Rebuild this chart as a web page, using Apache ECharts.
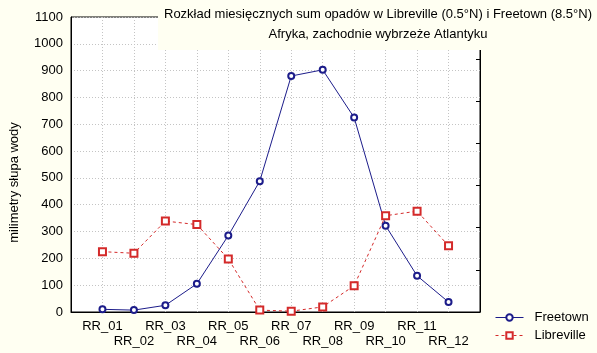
<!DOCTYPE html>
<html>
<head>
<meta charset="utf-8">
<script src="https://cdn.jsdelivr.net/npm/echarts@6/dist/echarts.min.js"></script>
<style>
  html, body { margin: 0; padding: 0; background: #fffff2; }
  #chart { width: 597px; height: 353px; }
</style>
</head>
<body>
<div id="chart"></div>
<script>
// months, padded with empty slots so the axis runs one step past each end
const months = ['RR_01', 'RR_02', 'RR_03', 'RR_04', 'RR_05', 'RR_06',
  'RR_07', 'RR_08', 'RR_09', 'RR_10', 'RR_11', 'RR_12'];
const freetown = [10, 7, 25, 105, 285, 488, 880, 903, 725, 322, 135, 37];
const libreville = [225, 219, 339, 326, 198, 7, 3, 19, 98, 359, 376, 247];
const yTicks = { min: 0, max: 1100, step: 100 };

const cats = [''].concat(months, ['']);
const pad = arr => [null].concat(arr, [null]);

const font = 'Liberation Sans, Arial, sans-serif';
const chart = echarts.init(document.getElementById('chart'));

chart.setOption({
  backgroundColor: '#fffff2',
  animation: false,
  textStyle: { fontFamily: font },
  title: {
    text: 'Rozkład miesięcznych sum opadów w Libreville (0.5°N) i Freetown (8.5°N)\nAfryka, zachodnie wybrzeże Atlantyku',
    left: 372,
    top: 0,
    textAlign: 'center',
    padding: [4, 6, 6, 6],
    backgroundColor: '#fffff2',
    textStyle: { fontSize: 13, fontWeight: 'normal', color: '#000', lineHeight: 20, fontFamily: font }
  },
  grid: {
    left: 68, right: 117, top: 17, bottom: 41,
    show: true, backgroundColor: '#fff', borderColor: '#000', borderWidth: 1
  },
  legend: {
    orient: 'vertical',
    left: 490,
    top: 306,
    itemWidth: 28,
    itemHeight: 8,
    itemGap: 5,
    lineStyle: { width: 1 },
    textStyle: { fontSize: 13, color: '#000', fontFamily: font, padding: [0, 0, 0, 6] },
    data: ['Freetown', 'Libreville']
  },
  xAxis: {
    type: 'category',
    data: cats,
    boundaryGap: false,
    axisLine: { lineStyle: { color: '#000' } },
    axisTick: { show: false },
    axisLabel: {
      interval: 0,
      margin: 7,
      fontSize: 13,
      lineHeight: 15,
      color: '#000',
      fontFamily: font,
      formatter: (v, i) => (i % 2 === 0 && v ? '\n' + v : v)
    },
    splitLine: { show: true, lineStyle: { color: '#c4c4c4', type: [1, 2] } }
  },
  yAxis: [{
    type: 'value',
    min: yTicks.min,
    max: yTicks.max,
    interval: yTicks.step,
    name: 'milimetry słupa wody',
    nameLocation: 'middle',
    nameGap: 50,
    nameTextStyle: { fontSize: 13, color: '#000', fontFamily: font, padding: [0, 36, 0, 0] },
    axisLine: { show: true, lineStyle: { color: '#000' } },
    axisTick: { show: false },
    axisLabel: { fontSize: 13, color: '#000', margin: 8, fontFamily: font, formatter: v => String(v) },
    splitLine: { show: true, lineStyle: { color: '#c4c4c4', type: [1, 2] } }
  }, {
    type: 'value',
    min: 0,
    max: 7,
    interval: 1,
    position: 'right',
    axisLine: { show: true, lineStyle: { color: '#000' } },
    axisTick: { show: true, inside: true, length: 4, lineStyle: { color: '#000' } },
    axisLabel: { show: false },
    splitLine: { show: false }
  }],
  series: [{
    name: 'Freetown',
    type: 'line',
    data: pad(freetown),
    symbol: 'emptyCircle',
    symbolSize: 6,
    color: '#1c1c8a',
    lineStyle: { width: 1, color: '#1c1c8a' },
    itemStyle: { color: '#1c1c8a', borderWidth: 1 }
  }, {
    name: 'Libreville',
    type: 'line',
    data: pad(libreville),
    symbol: 'emptyRect',
    symbolSize: 7,
    color: '#d42a2a',
    lineStyle: { width: 1, color: '#d42a2a', type: [3, 3] },
    itemStyle: { color: '#d42a2a', borderColor: '#7a1c1c', borderWidth: 1 }
  }]
});
</script>
</body>
</html>
